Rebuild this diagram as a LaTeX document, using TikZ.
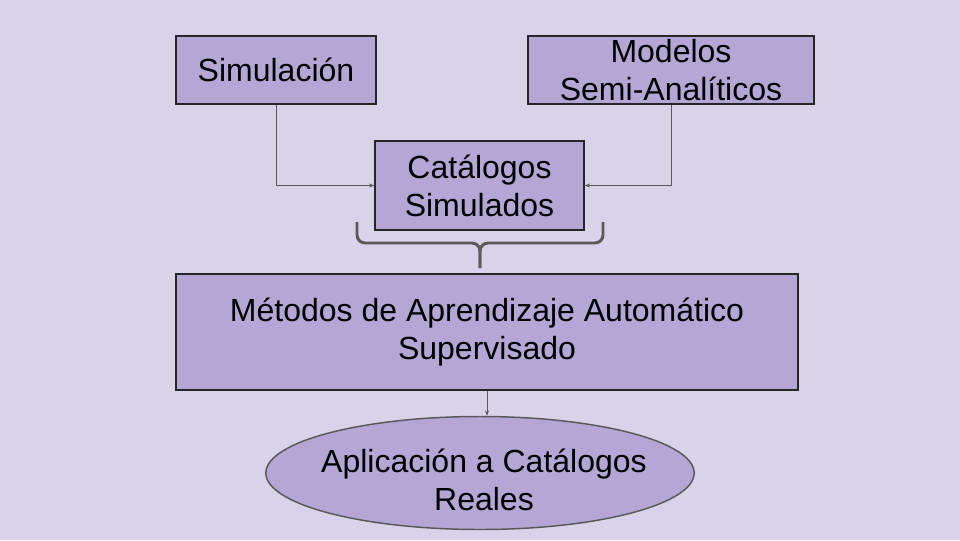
\documentclass[tikz,border=0pt]{standalone}
\usepackage{fontspec}
\setmainfont{Liberation Sans}
\usetikzlibrary{positioning, arrows.meta, calc, shapes.geometric}
\definecolor{fondo}{HTML}{D9D2E9}
\definecolor{lila}{HTML}{B4A7D6}
\definecolor{gris}{HTML}{595959}
\tikzset{
  caja/.style={draw=black!85, line width=1.1pt, fill=lila, align=center, inner sep=0pt,
    font=\fontsize{24}{28.5}\selectfont},
  ovalo/.style={caja, ellipse, draw=gris, inner xsep=-11.5pt, inner ysep=-6pt},
  flecha/.style={draw=gris, line width=0.6pt, -{Stealth[length=4pt,width=3pt]}},
  llave/.style={draw=gris, line width=2.2pt, rounded corners=6pt}
}
\begin{document}
\begin{tikzpicture}[x=0.75pt, y=-0.75pt]
\fill[fondo] (0,0) rectangle (960,540);
\node[caja, minimum width=150pt, minimum height=51pt] (sim) at (276,70) {Simulación};
\node[caja, minimum width=214.5pt, minimum height=51pt] (mod) at (671,70) {Modelos\\Semi-Analíticos};
\node[caja, minimum width=156.75pt, minimum height=66.75pt] (cat) at (479.5,185.5) {Catálogos\\Simulados};
\node[caja, minimum width=466.5pt, minimum height=87pt] (met) at (487,332) {Métodos de Aprendizaje Automático\\Supervisado};
\node[ovalo, minimum width=319.5pt, minimum height=84.75pt] (apl) at (480,473) {\rule{0pt}{28pt}\hspace{6pt}Aplicación a Catálogos\\\hspace{6pt}Reales};
\draw[flecha] (sim.south) |- (cat.west);
\draw[flecha] (mod.south) |- (cat.east);
\draw[flecha] (met.south) -- (met.south |- apl.north);
% llave bajo los catalogos
\coordinate (bi) at (357,222);
\coordinate (bd) at (603,222);
\coordinate (medio) at (480,243);
\coordinate (pico) at (480,268);
\draw[llave] (bi) -- (bi |- medio) -- (medio) -- (pico);
\draw[llave] (bd) -- (bd |- medio) -- (medio) -- (pico);
\end{tikzpicture}
\end{document}
